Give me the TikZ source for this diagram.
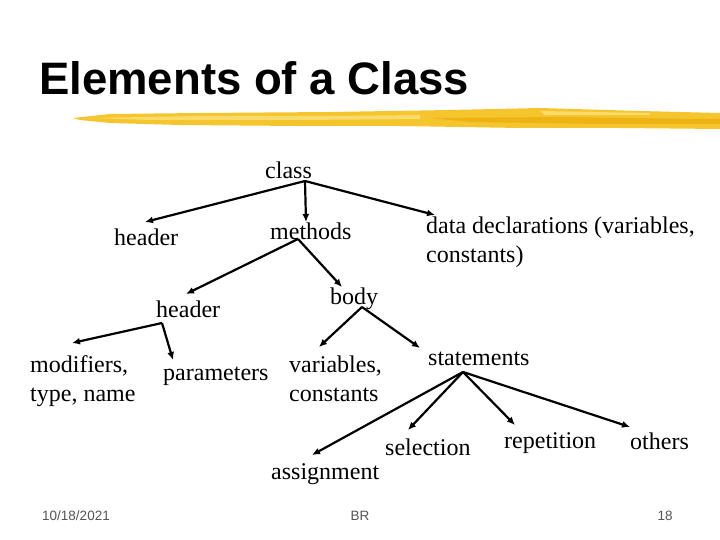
\documentclass[tikz,border=0pt]{standalone}
\usepackage{fontspec}
\setmainfont{Liberation Serif}
\newfontfamily\titlefont{Liberation Sans}
\usetikzlibrary{arrows.meta,calc}
\definecolor{gold}{HTML}{F5C52E}
\definecolor{goldlight}{HTML}{F9DA6A}
\definecolor{golddark}{HTML}{EDB315}
\definecolor{footgray}{HTML}{555555}
\begin{document}
\begin{tikzpicture}[x=1pt,y=-1pt,
  lbl/.style={anchor=base west,inner sep=0pt,font=\fontsize{24}{29}\selectfont,align=left},
  arr/.style={line width=2.2pt,-{Latex[length=8pt,width=7pt]}},
  foot/.style={inner sep=0pt,anchor=base,text=footgray,font=\titlefont\fontsize{13.5}{15}\selectfont}]
\useasboundingbox (0,0) rectangle (720,540);
\fill[white] (0,0) rectangle (720,540);

% title
\node[anchor=base west,inner sep=0pt,font=\titlefont\bfseries\fontsize{45.5}{50}\selectfont] (title) at (39,95) {Elements of a Class};

% brush stroke
\fill[gold] (73,118) -- (110,114) -- (200,113) -- (330,112) -- (450,110) -- (540,108) -- (640,111) -- (720,113)
  -- (720,129) -- (620,128) -- (520,128) -- (400,126) -- (300,126) -- (180,125) -- (110,123) -- (80,120) -- cycle;
\fill[goldlight] (90,118) -- (200,116) -- (330,116) -- (420,115) -- (420,119) -- (300,120) -- (150,120) -- cycle;
\fill[golddark] (430,118) -- (560,117) -- (700,119) -- (720,119) -- (720,124) -- (600,124) -- (470,122) -- cycle;
\fill[goldlight] (540,111) -- (650,113) -- (650,115) -- (545,115) -- cycle;

% nodes (multi-line nodes are placed by the baseline of their last line)
\node[lbl] (class) at (265,179) {class};
\node[lbl] (header) at (114,245) {header};
\node[lbl] (methods) at (270,240) {methods};
\node[lbl] (data) at (426,262) {data declarations (variables,\\constants)};
\node[lbl] (header2) at (156,317) {header};
\node[lbl] (body) at (330,304) {body};
\node[lbl] (modifiers) at (30,401) {modifiers,\\type, name};
\node[lbl] (parameters) at (163,380) {parameters};
\node[lbl] (variables) at (289,401) {variables,\\constants};
\node[lbl] (statements) at (428,365) {statements};
\node[lbl] (assignment) at (271,479) {assignment};
\node[lbl] (selection) at (385,455) {selection};
\node[lbl] (repetition) at (504,448) {repetition};
\node[lbl] (others) at (630,449) {others};

% connectors
\draw[arr] ($(class.base west)+(40,2)$) -- ($(header.base west)+(31,-23)$);
\draw[arr] ($(class.base west)+(40,2)$) -- ($(methods.base west)+(36,-18)$);
\draw[arr] ($(class.base west)+(40,2)$) -- ($(data.base west)+(9,-47)$);
\draw[arr] ($(methods.base west)+(28,-1)$) -- ($(header2.base west)+(30,-23)$);
\draw[arr] ($(methods.base west)+(28,-1)$) -- ($(body.base west)+(12,-17)$);
\draw[arr] ($(header2.base west)+(6,6)$) -- ($(modifiers.base west)+(42,-58)$);
\draw[arr] ($(header2.base west)+(6,6)$) -- ($(parameters.base west)+(10,-20)$);
\draw[arr] ($(body.base west)+(32,3)$) -- ($(variables.base west)+(30,-54)$);
\draw[arr] ($(body.base west)+(32,3)$) -- ($(statements.base west)+(-8,-17)$);
\draw[arr] ($(statements.base west)+(35,7)$) -- ($(assignment.base west)+(41,-24)$);
\draw[arr] ($(statements.base west)+(35,7)$) -- ($(selection.base west)+(23,-25)$);
\draw[arr] ($(statements.base west)+(35,7)$) -- ($(repetition.base west)+(11,-23)$);
\draw[arr] ($(statements.base west)+(35,7)$) -- ($(others.base west)+(0,-22)$);

% footer
\node[foot] (date) at (76,520) {10/18/2021};
\node[foot] (author) at (360,520) {BR};
\node[foot] (page) at (665,520) {18};
\end{tikzpicture}
\end{document}
